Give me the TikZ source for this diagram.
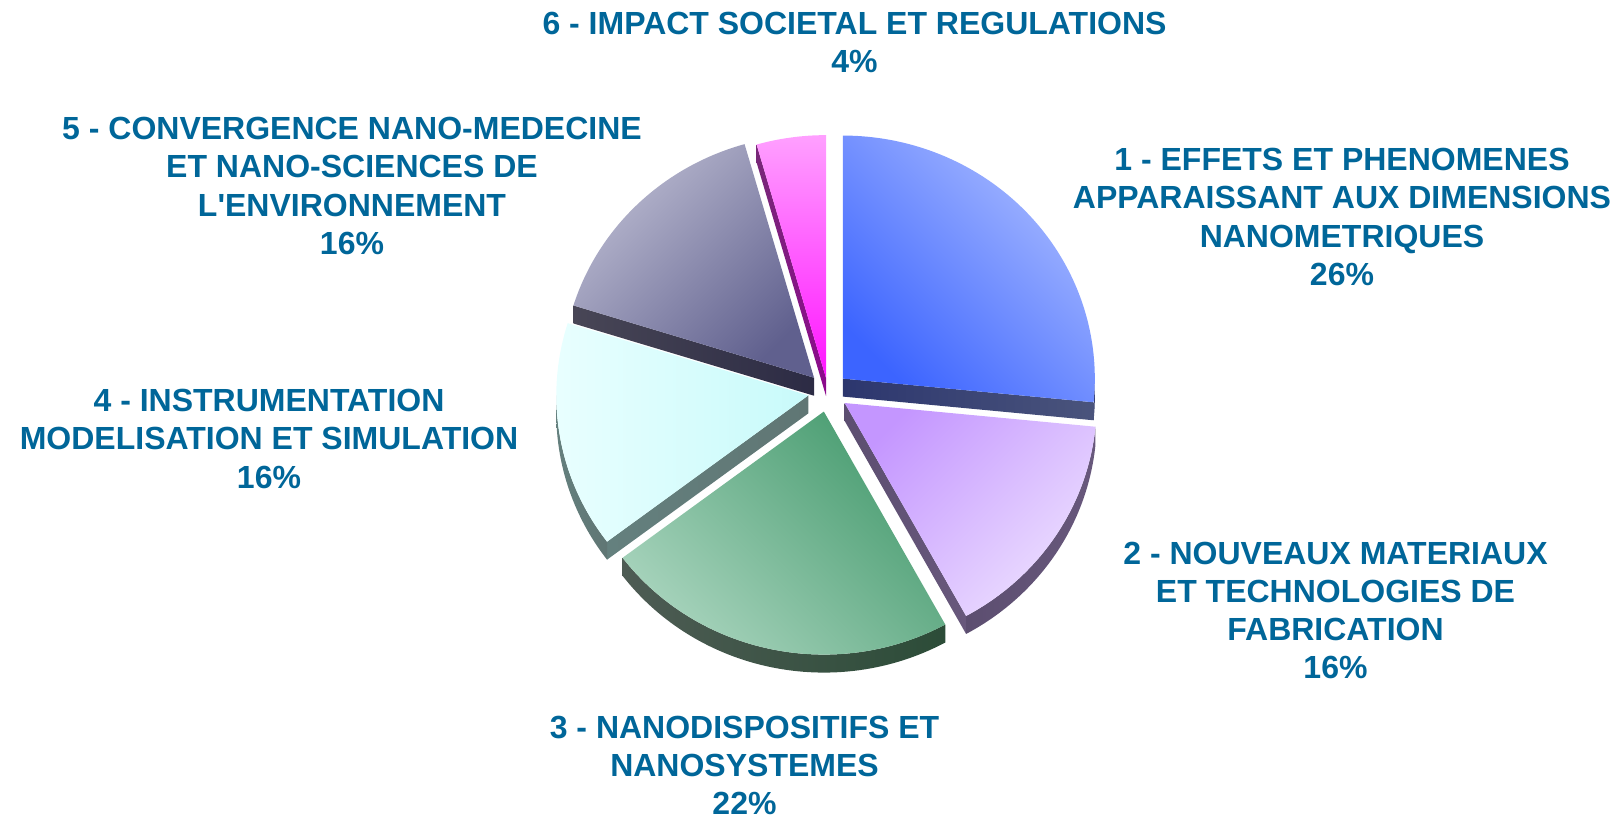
\documentclass[tikz,border=0pt]{standalone}
\usepackage{fontspec}
\setmainfont{Liberation Sans}[Ligatures=TeXOff]
\definecolor{lblblue}{RGB}{0,102,153}
\definecolor{bluedark}{RGB}{60,100,255}
\definecolor{bluelight}{RGB}{170,188,255}
\definecolor{lavdark}{RGB}{196,150,255}
\definecolor{lavlight}{RGB}{236,222,255}
\definecolor{greendark}{RGB}{72,156,112}
\definecolor{greenlight}{RGB}{172,214,192}
\definecolor{cyanleft}{RGB}{234,255,255}
\definecolor{cyanright}{RGB}{200,250,250}
\definecolor{graylight}{RGB}{186,186,208}
\definecolor{graydark}{RGB}{96,96,142}
\definecolor{pinklight}{RGB}{255,160,255}
\definecolor{pinkdark}{RGB}{255,20,255}
% one slice of the pie: apex, from, to, style
\newcommand\SliceTop[4]{%
    \shade[#4] ([shift={(#2:252pt and 243pt)}]#1) arc[start angle=#2, end angle=#3, x radius=252pt, y radius=243pt] -- (#1) -- cycle;
}
% side below a straight edge: apex, angle, style
\newcommand\SliceEdge[3]{%
    \shade[#3] (#1) -- ++(#2:252pt and 243pt) -- ++(0,-18) -- ++(#2+180:252pt and 243pt) -- cycle;
}
% side below the round edge: apex, from, to, style
\newcommand\SliceRim[4]{%
    \shade[#4] ([shift={(#2:252pt and 243pt)}]#1) arc[start angle=#2, end angle=#3, x radius=252pt, y radius=243pt] -- ++(0,-18) arc[start angle=#3, end angle=#2, x radius=252pt, y radius=243pt] -- cycle;
}

\begin{document}
\begin{tikzpicture}[x=1pt,y=1pt,
    lbl/.style={anchor=north, align=center, inner sep=0pt, text=lblblue,
        font=\fontsize{32}{38.3}\selectfont\bfseries},
    top1/.style={top color=bluelight, bottom color=bluedark, shading angle=-45},
    top2/.style={top color=lavdark, bottom color=lavlight, shading angle=45},
    top3/.style={top color=greendark, bottom color=greenlight, shading angle=-45},
    top4/.style={left color=cyanleft, right color=cyanright},
    top5/.style={top color=graylight, bottom color=graydark, shading angle=45},
    top6/.style={top color=pinklight, bottom color=pinkdark},
    side1/.style={left color={rgb,255:red,44;green,54;blue,110}, right color={rgb,255:red,74;green,84;blue,124}},
    side2/.style={left color={rgb,255:red,92;green,78;blue,112}, right color={rgb,255:red,104;green,88;blue,124}},
    side3/.style={left color={rgb,255:red,78;green,92;blue,84}, right color={rgb,255:red,44;green,76;blue,56}},
    side4/.style={left color={rgb,255:red,100;green,128;blue,126}, right color={rgb,255:red,96;green,118;blue,116}},
    side5/.style={left color={rgb,255:red,72;green,70;blue,86}, right color={rgb,255:red,44;green,43;blue,68}},
    side6/.style={left color={rgb,255:red,120;green,40;blue,120}, right color={rgb,255:red,140;green,10;blue,140}}]
    \useasboundingbox (0,0) rectangle (1624,-822);

    \coordinate (C) at (828,-392);
    \coordinate (A1) at ([shift={(42.2:20pt)}]C);
    \coordinate (A2) at ([shift={(-33.4:20pt)}]C);
    \coordinate (A3) at ([shift={(-102:20pt)}]C);
    \coordinate (A4) at ([shift={(189.8:20pt)}]C);
    \coordinate (A5) at ([shift={(134.4:20pt)}]C);
    \coordinate (A6) at ([shift={(98:14pt)}]C);

    % 6
    \SliceEdge{A6}{106}{side6}
    \SliceTop{A6}{90}{106}{top6}
    % 5
    \SliceEdge{A5}{162.7}{side5}
    \SliceTop{A5}{106}{162.7}{top5}
    % 1
    \SliceEdge{A1}{-5.6}{side1}
    \SliceRim{A1}{-5.6}{0}{side1}
    \SliceTop{A1}{-5.6}{90}{top1}
    % 4
    \SliceEdge{A4}{217}{side4}
    \SliceRim{A4}{180}{217}{side4}
    \SliceTop{A4}{162.7}{217}{top4}
    % 2
    \SliceEdge{A2}{-61.2}{side2}
    \SliceRim{A2}{-61.2}{-5.6}{side2}
    \SliceTop{A2}{-61.2}{-5.6}{top2}
    % 3
    \SliceRim{A3}{-143}{-61.2}{side3}
    \SliceTop{A3}{-143}{-61.2}{top3}

    \node[lbl] (L6) at (854.5,-12) {6 - IMPACT SOCIETAL ET REGULATIONS\\4\%};
    \node[lbl] (L5) at (352,-117) {5 - CONVERGENCE NANO-MEDECINE\\ET NANO-SCIENCES DE\\L'ENVIRONNEMENT\\16\%};
    \node[lbl] (L1) at (1342,-148) {1 - EFFETS ET PHENOMENES\\APPARAISSANT AUX DIMENSIONS\\NANOMETRIQUES\\26\%};
    \node[lbl] (L4) at (269,-389) {4 - INSTRUMENTATION\\MODELISATION ET SIMULATION\\16\%};
    \node[lbl] (L2) at (1335.5,-541.5) {2 - NOUVEAUX MATERIAUX\\ET TECHNOLOGIES DE\\FABRICATION\\16\%};
    \node[lbl] (L3) at (744.5,-715.5) {3 - NANODISPOSITIFS ET\\NANOSYSTEMES\\22\%};
\end{tikzpicture}
\end{document}
